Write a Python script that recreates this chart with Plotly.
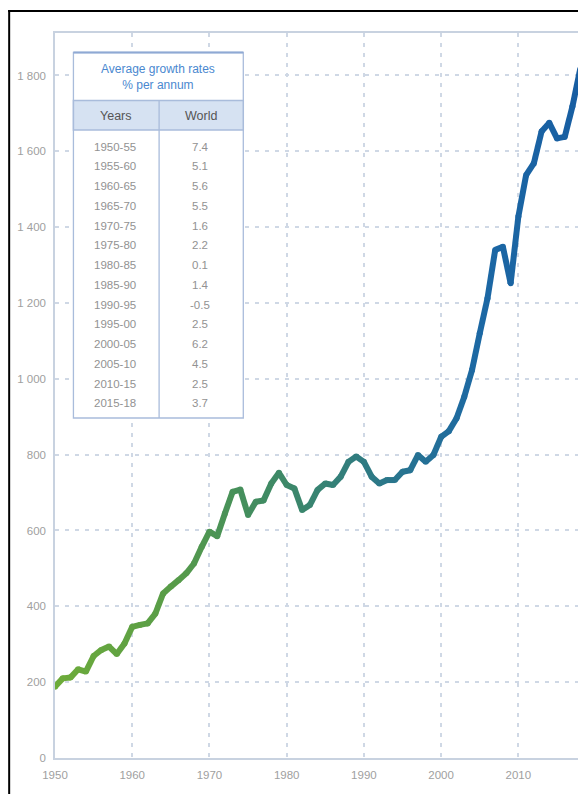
import plotly.graph_objects as go

# ---------------- data ----------------
years = list(range(1950, 2019))
volume = [188, 210, 212, 234, 228, 269, 285, 294, 274, 302,
          346, 351, 355, 381, 434, 452, 469, 487, 513, 557,
          597, 585, 645, 702, 708, 641, 676, 679, 724, 752,
          720, 711, 654, 667, 707, 724, 720, 742, 781, 795,
          781, 742, 724, 733, 733, 755, 759, 799, 781, 799,
          847, 862, 896, 953, 1023, 1120, 1212, 1340, 1348, 1252,
          1428, 1537, 1568, 1652, 1675, 1634, 1638, 1718, 1816]

periods = ["1950-55", "1955-60", "1960-65", "1965-70", "1970-75", "1975-80",
           "1980-85", "1985-90", "1990-95", "1995-00", "2000-05", "2005-10",
           "2010-15", "2015-18"]
rates = ["7.4", "5.1", "5.6", "5.5", "1.6", "2.2", "0.1", "1.4", "-0.5",
         "2.5", "6.2", "4.5", "2.5", "3.7"]

y_ticks = [0, 200, 400, 600, 800, 1000, 1200, 1400, 1600, 1800]
y_tick_text = ["0", "200", "400", "600", "800", "1 000", "1 200", "1 400", "1 600", "1 800"]
x_ticks = [1950, 1960, 1970, 1980, 1990, 2000, 2010]

# ---------------- geometry helpers (page pixel -> paper) ----------------
OFF = 8  # default page body margin
W, H = 586, 786
L, R, T, B = 47, 8, 25, 36
PW, PH = W - L - R, H - T - B


def px(x):
    return (x - OFF - L) / PW


def py(y):
    return (H - B - (y - OFF)) / PH


# colour gradient along time
stops = [(1950, (110, 172, 58)), (1965, (88, 156, 72)), (1975, (68, 142, 94)),
         (1985, (54, 130, 116)), (1995, (40, 116, 144)), (2005, (28, 104, 164)),
         (2018, (24, 94, 162))]


def col(yr):
    for (y0, c0), (y1, c1) in zip(stops[:-1], stops[1:]):
        if y0 <= yr <= y1:
            t = (yr - y0) / (y1 - y0)
            c = [round(a + (b - a) * t) for a, b in zip(c0, c1)]
            return f"rgb({c[0]},{c[1]},{c[2]})"
    return "rgb(24,94,162)"


fig = go.Figure()
LW = 6
for i in range(len(years) - 1):
    fig.add_trace(go.Scatter(
        x=[years[i], years[i + 1]], y=[volume[i], volume[i + 1]],
        mode="lines", line=dict(color=col(years[i] + 0.5), width=LW),
        hoverinfo="skip", showlegend=False))
fig.add_trace(go.Scatter(
    x=years, y=volume, mode="markers",
    marker=dict(color=[col(y) for y in years], size=LW, line=dict(width=0)),
    hoverinfo="skip", showlegend=False))

grid_col = "#cfd8e5"
axis_col = "#c8d2e0"
tick_font = dict(family="Liberation Sans, Arial, sans-serif", size=11.5, color="#a0a0a0")

fig.update_xaxes(range=[1950, 2018.5], tickvals=x_ticks, showgrid=True,
                 gridcolor=grid_col, griddash="4px,6px", gridwidth=1.5,
                 showline=True, linecolor=axis_col, linewidth=1.5, mirror=True,
                 zeroline=False, ticks="", tickfont=tick_font, ticklabelstandoff=5)
fig.update_yaxes(range=[0, 1912], tickvals=y_ticks, ticktext=y_tick_text, showgrid=True,
                 gridcolor=grid_col, griddash="4px,6px", gridwidth=1.5,
                 showline=True, linecolor=axis_col, linewidth=1.5, mirror=True,
                 zeroline=False, ticks="", tickfont=tick_font, ticklabelstandoff=5)

shapes = []
annotations = []

# outer black frame (left and top)
shapes.append(dict(type="line", xref="paper", yref="paper",
                   x0=px(9), x1=px(9), y0=py(10), y1=py(800),
                   line=dict(color="black", width=2)))
shapes.append(dict(type="line", xref="paper", yref="paper",
                   x0=px(8), x1=px(600), y0=py(11), y1=py(11),
                   line=dict(color="black", width=2)))

# table
tb_l, tb_r, tb_t, tb_b = 73.5, 244, 52.5, 418
title_b, head_b, div_x = 100.5, 130, 159.5
border = "#a9bcdb"
shapes.append(dict(type="rect", xref="paper", yref="paper",
                   x0=px(tb_l), x1=px(tb_r), y0=py(tb_b), y1=py(tb_t),
                   fillcolor="white", line=dict(color=border, width=1.3), layer="above"))
shapes.append(dict(type="rect", xref="paper", yref="paper",
                   x0=px(tb_l), x1=px(tb_r), y0=py(head_b), y1=py(title_b),
                   fillcolor="#d6e2f2", line=dict(color=border, width=1.5), layer="above"))
shapes.append(dict(type="line", xref="paper", yref="paper",
                   x0=px(tb_l), x1=px(tb_r), y0=py(tb_t), y1=py(tb_t),
                   line=dict(color="#8fa9d4", width=1.8), layer="above"))
shapes.append(dict(type="line", xref="paper", yref="paper",
                   x0=px(div_x), x1=px(div_x), y0=py(tb_b), y1=py(title_b),
                   line=dict(color=border, width=1.3), layer="above"))

fam = "Liberation Sans, Arial, sans-serif"
annotations.append(dict(xref="paper", yref="paper", x=px((tb_l + tb_r) / 2), y=py(76.5),
                        text="Average growth rates<br>% per annum", showarrow=False,
                        font=dict(family=fam, size=12, color="#4a88cf"),
                        xanchor="center", yanchor="middle", align="center"))
annotations.append(dict(xref="paper", yref="paper", x=px(116), y=py(116),
                        text="Years", showarrow=False,
                        font=dict(family=fam, size=12.5, color="#555555"),
                        xanchor="center", yanchor="middle"))
annotations.append(dict(xref="paper", yref="paper", x=px(202), y=py(116),
                        text="World", showarrow=False,
                        font=dict(family=fam, size=12.5, color="#555555"),
                        xanchor="center", yanchor="middle"))
row0, step = 146.7, 19.74
for i, (p, r) in enumerate(zip(periods, rates)):
    yy = py(row0 + i * step)
    annotations.append(dict(xref="paper", yref="paper", x=px(115), y=yy, text=p,
                            showarrow=False, font=dict(family=fam, size=11.5, color="#929292"),
                            xanchor="center", yanchor="middle"))
    annotations.append(dict(xref="paper", yref="paper", x=px(201), y=yy, text=r,
                            showarrow=False, font=dict(family=fam, size=11.5, color="#929292"),
                            xanchor="center", yanchor="middle"))

fig.update_layout(width=W, height=H, margin=dict(l=L, r=R, t=T, b=B),
                  paper_bgcolor="white", plot_bgcolor="white",
                  shapes=shapes, annotations=annotations, showlegend=False)

fig.write_html("out.html")
